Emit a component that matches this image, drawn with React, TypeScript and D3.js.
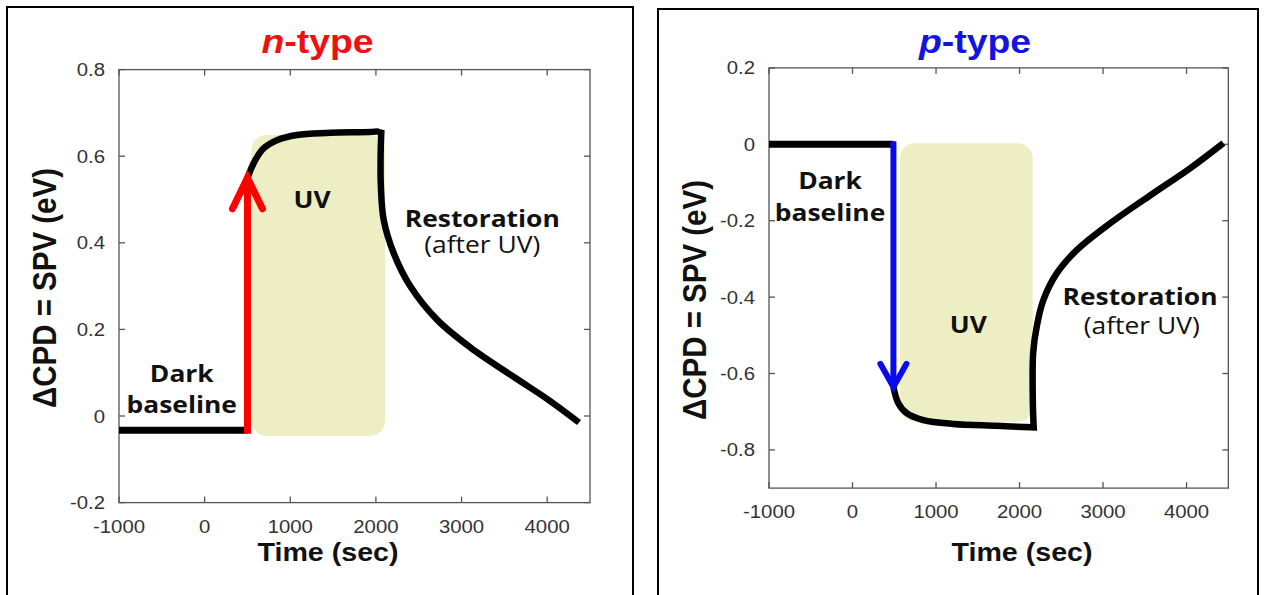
import * as d3 from "d3";

type Pt = [number, number];

// shared x axis
const TIME_TICKS = [-1000, 0, 1000, 2000, 3000, 4000];
const TIME_TICK_LABELS = ["-1000", "0", "1000", "2000", "3000", "4000"];

// n-type panel
const N_SPV_TICKS = [0.8, 0.6, 0.4, 0.2, 0, -0.2];
const N_SPV_TICK_LABELS = ["0.8", "0.6", "0.4", "0.2", "0", "-0.2"];
const N_DARK: Pt[] = [[-1000, -0.033], [500, -0.033]];
const N_JUMP: Pt[] = [[500, -0.041], [500, 0.55]];
const N_UV: Pt[] = [
  [500, 0.55], [591, 0.591], [688, 0.618], [844, 0.637], [1078, 0.649],
  [1468, 0.654], [2053, 0.658], [2064, 0.66],
];
const N_RESTORE: Pt[] = [
  [2064, 0.66], [2055, 0.6], [2058, 0.53], [2091, 0.453], [2208, 0.376],
  [2404, 0.299], [2716, 0.222], [3105, 0.158], [3612, 0.09], [4002, 0.039], [4372, -0.015],
];
const N_UV_WINDOW: Pt[] = [[547, -0.046], [2106, 0.649]];

// p-type panel
const P_SPV_TICKS = [0.2, 0, -0.2, -0.4, -0.6, -0.8];
const P_SPV_TICK_LABELS = ["0.2", "0", "-0.2", "-0.4", "-0.6", "-0.8"];
const P_DARK: Pt[] = [[-1000, 0], [490, 0]];
const P_JUMP: Pt[] = [[490, 0.008], [490, -0.635]];
const P_UV: Pt[] = [
  [490, -0.635], [549, -0.678], [649, -0.704], [848, -0.722], [1207, -0.732],
  [1727, -0.737], [2170, -0.741],
];
const P_RESTORE: Pt[] = [
  [2170, -0.741], [2160, -0.68], [2163, -0.547], [2206, -0.477], [2285, -0.408],
  [2445, -0.338], [2685, -0.277], [3084, -0.207], [3603, -0.128], [4042, -0.063], [4441, 0.003],
];
const P_UV_WINDOW: Pt[] = [[569, -0.726], [2158, 0.003]];

type Note = { text: string; t: number; v: number; bold: boolean };

const N_NOTES: Note[] = [
  { text: "Dark", t: -267, v: 0.079, bold: true },
  { text: "baseline", t: -267, v: 0.006, bold: true },
  { text: "UV", t: 1254, v: 0.48, bold: true },
  { text: "Restoration", t: 3242, v: 0.437, bold: true },
  { text: "(after UV)", t: 3242, v: 0.377, bold: false },
];
const P_NOTES: Note[] = [
  { text: "Dark", t: -269, v: -0.118, bold: true },
  { text: "baseline", t: -269, v: -0.2, bold: true },
  { text: "UV", t: 1387, v: -0.495, bold: true },
  { text: "Restoration", t: 3443, v: -0.421, bold: true },
  { text: "(after UV)", t: 3463, v: -0.497, bold: false },
];

const SX = 1.1; // the source picture is stretched a little horizontally
const AXIS = "#555";
const SANS = "'Liberation Sans', Arial, sans-serif";
const LABEL_FONT = "'Open Sans', 'Noto Sans', sans-serif";

interface PanelCfg {
  frame: [number, number, number, number];
  left: number; right: number; top: number; bottom: number;
  yDomain: [number, number];
  yTicks: number[]; yTickLabels: string[];
  title: string; titleX: number; titleColor: string;
  arrowColor: string; arrowWidth: number; headDx: number; headDy: number;
  dark: Pt[]; jump: Pt[]; uv: Pt[]; restore: Pt[]; window: Pt[];
  notes: Note[];
  xLabelX: number; yLabelX: number; yLabelY: number;
}

function SText({ x, y, children, ...rest }: any) {
  return (
    <text transform={`translate(${x},${y}) scale(${SX},1)`} {...rest}>
      {children}
    </text>
  );
}

function Panel({ p }: { p: PanelCfg }) {
  const x = d3.scaleLinear().domain([-1000, 4500]).range([p.left, p.right]);
  const y = d3.scaleLinear().domain(p.yDomain).range([p.bottom, p.top]);

  const straight = d3.line<Pt>().x((d) => x(d[0])).y((d) => y(d[1]));
  const smooth = d3
    .line<Pt>()
    .x((d) => x(d[0]))
    .y((d) => y(d[1]))
    .curve(d3.curveCatmullRom.alpha(0.5));
  const curveD = smooth(p.uv)! + smooth(p.restore)!.replace(/^M/, "L");

  const tx = x(p.jump[1][0]);
  const ty = y(p.jump[1][1]);
  const dir = y(p.jump[1][1]) < y(p.jump[0][1]) ? 1 : -1;
  const head = `M${tx - p.headDx},${ty + dir * p.headDy}L${tx},${ty}L${tx + p.headDx},${ty + dir * p.headDy}`;

  const [w0, w1] = p.window;
  const [fx, fy, fw, fh] = p.frame;
  const tick = 6;

  return (
    <g>
      <rect x={fx} y={fy} width={fw} height={fh} fill="none" stroke="#000" strokeWidth={2} />

      <rect
        x={x(w0[0])}
        y={y(w1[1])}
        width={x(w1[0]) - x(w0[0])}
        height={y(w0[1]) - y(w1[1])}
        rx={15}
        fill="#eeeec4"
      />

      {/* frame + mirrored inward ticks */}
      <rect x={p.left} y={p.top} width={p.right - p.left} height={p.bottom - p.top} fill="none" stroke={AXIS} strokeWidth={1.3} />
      {TIME_TICKS.map((t) => (
        <g key={"xt" + t} stroke={AXIS} strokeWidth={1.3}>
          <line x1={x(t)} x2={x(t)} y1={p.bottom} y2={p.bottom - tick} />
          <line x1={x(t)} x2={x(t)} y1={p.top} y2={p.top + tick} />
        </g>
      ))}
      {p.yTicks.map((v) => (
        <g key={"yt" + v} stroke={AXIS} strokeWidth={1.3}>
          <line x1={p.left} x2={p.left + tick} y1={y(v)} y2={y(v)} />
          <line x1={p.right} x2={p.right - tick} y1={y(v)} y2={y(v)} />
        </g>
      ))}
      {TIME_TICKS.map((t, i) => (
        <SText key={"xl" + t} x={x(t)} y={p.bottom + 30} textAnchor="middle" fontFamily={SANS} fontSize={18.5} fill="#333">
          {TIME_TICK_LABELS[i]}
        </SText>
      ))}
      {p.yTicks.map((v, i) => (
        <SText key={"yl" + v} x={p.left - 14} y={y(v) + 6.5} textAnchor="end" fontFamily={SANS} fontSize={18.5} fill="#333">
          {p.yTickLabels[i]}
        </SText>
      ))}

      {/* traces */}
      <path d={straight(p.dark)!} fill="none" stroke="#000" strokeWidth={7} />
      <path d={curveD} fill="none" stroke="#000" strokeWidth={6.5} strokeLinejoin="miter" />
      <path d={straight(p.jump)!} fill="none" stroke={p.arrowColor} strokeWidth={p.arrowWidth} />
      <path d={head} fill="none" stroke={p.arrowColor} strokeWidth={p.arrowWidth} strokeLinecap="round" strokeLinejoin="miter" />

      {p.notes.map((n) => (
        <SText
          key={n.text}
          x={x(n.t)}
          y={y(n.v)}
          textAnchor="middle"
          fontFamily={LABEL_FONT}
          fontWeight={n.bold ? 700 : 400}
          fontSize={24}
          fill="#111"
        >
          {n.text}
        </SText>
      ))}

      <SText x={p.titleX} y={52.7} textAnchor="middle" fontFamily={SANS} fontWeight="bold" fontSize={34} fill={p.titleColor}>
        <tspan fontStyle="italic">{p.title[0]}</tspan>
        {p.title.slice(1)}
      </SText>
      <SText x={p.xLabelX} y={561} textAnchor="middle" fontFamily={SANS} fontWeight="bold" fontSize={26} fill="#111">
        Time (sec)
      </SText>
      <text
        transform={`translate(${p.yLabelX},${p.yLabelY}) scale(${SX},1) rotate(-90)`}
        textAnchor="middle"
        fontFamily={SANS}
        fontWeight="bold"
        fontSize={29.5}
        fill="#111"
      >
        ΔCPD = SPV (eV)
      </text>
    </g>
  );
}

const nPanel: PanelCfg = {
  frame: [7, 7, 626, 600],
  left: 119, right: 590, top: 69.6, bottom: 502.6,
  yDomain: [-0.2, 0.8],
  yTicks: N_SPV_TICKS, yTickLabels: N_SPV_TICK_LABELS,
  title: "n-type", titleX: 317.5, titleColor: "#ee1111",
  arrowColor: "#ff0000", arrowWidth: 7, headDx: 15, headDy: 31,
  dark: N_DARK, jump: N_JUMP, uv: N_UV, restore: N_RESTORE, window: N_UV_WINDOW,
  notes: N_NOTES,
  xLabelX: 328, yLabelX: 56, yLabelY: 288,
};

const pPanel: PanelCfg = {
  frame: [658, 9, 600, 600],
  left: 769, right: 1228.3, top: 67.9, bottom: 488.1,
  yDomain: [-0.9, 0.2],
  yTicks: P_SPV_TICKS, yTickLabels: P_SPV_TICK_LABELS,
  title: "p-type", titleX: 975, titleColor: "#1414e0",
  arrowColor: "#0a0aee", arrowWidth: 6, headDx: 13, headDy: 23,
  dark: P_DARK, jump: P_JUMP, uv: P_UV, restore: P_RESTORE, window: P_UV_WINDOW,
  notes: P_NOTES,
  xLabelX: 1022, yLabelX: 706, yLabelY: 300,
};

export default function App() {
  return (
    <svg
      width={1266}
      height={595}
      style={{ position: "absolute", left: 0, top: 0, background: "#fff" }}
    >
      <Panel p={nPanel} />
      <Panel p={pPanel} />
    </svg>
  );
}
